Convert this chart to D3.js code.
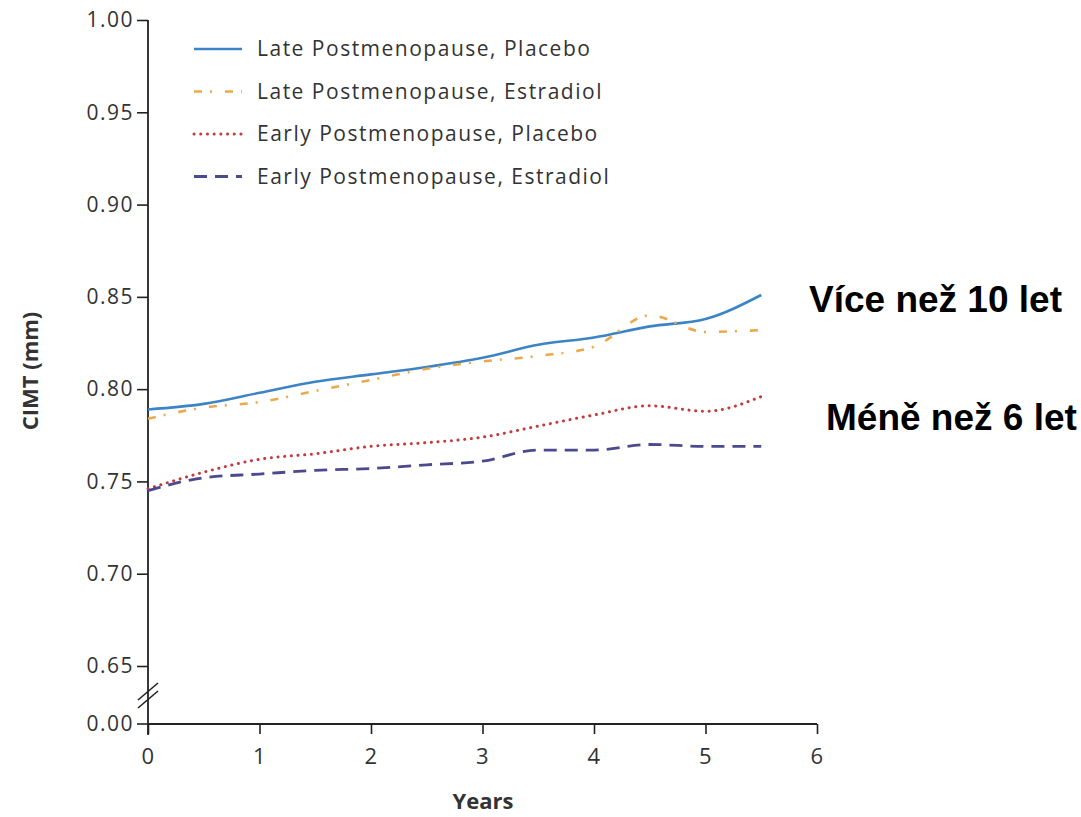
<!DOCTYPE html>
<html>
<head>
<meta charset="utf-8">
<script src="https://cdn.jsdelivr.net/npm/d3@7"></script>
<style>
  body { margin: 0; background: #fff; }
  svg { display: block; }
  .tick text { font-family: "Open Sans", sans-serif; fill: #333; letter-spacing: 1.5px; }
</style>
</head>
<body>
<svg id="chart" width="1081" height="817"></svg>
<script>
// data (CIMT in mm, every half year)
var years = [0, 0.5, 1, 1.5, 2, 2.5, 3, 3.5, 4, 4.5, 5, 5.5];
var latePlacebo    = [0.789, 0.792, 0.798, 0.804, 0.808, 0.812, 0.817, 0.824, 0.828, 0.834, 0.838, 0.851];
var lateEstradiol  = [0.784, 0.790, 0.793, 0.799, 0.805, 0.811, 0.815, 0.818, 0.823, 0.840, 0.831, 0.832];
var earlyPlacebo   = [0.746, 0.755, 0.762, 0.765, 0.769, 0.771, 0.774, 0.780, 0.786, 0.791, 0.788, 0.796];
var earlyEstradiol = [0.745, 0.752, 0.754, 0.756, 0.757, 0.759, 0.761, 0.767, 0.767, 0.770, 0.769, 0.769];
var seriesNames = ["Late Postmenopause, Placebo", "Late Postmenopause, Estradiol",
                   "Early Postmenopause, Placebo", "Early Postmenopause, Estradiol"];
var yTicks = [0.65, 0.70, 0.75, 0.80, 0.85, 0.90, 0.95, 1.00];
var xTicks = [0, 1, 2, 3, 4, 5, 6];

var svg = d3.select("#chart");

var x = d3.scaleLinear().domain([0, 6]).range([148, 817]);
var y = d3.scaleLinear().domain([0.65, 1.00]).range([666, 20]);
var yZero = 724; // broken axis: 0.00 sits below the break

var series = [
    { name: seriesNames[0], values: latePlacebo,    color: "#3d84c6", dash: null,        width: 2.6, cap: "butt" },
    { name: seriesNames[1], values: lateEstradiol,  color: "#eba94c", dash: "8,8,2,13",  width: 2.6, cap: "butt" },
    { name: seriesNames[2], values: earlyPlacebo,   color: "#c43a3c", dash: "0.1,6.6",   width: 3,   cap: "round" },
    { name: seriesNames[3], values: earlyEstradiol, color: "#4c4a8e", dash: "13,8",      width: 2.8, cap: "butt" }
];

var font = "Open Sans, sans-serif";

// y axis
var yAxis = d3.axisLeft(y).tickValues(yTicks).tickFormat(d3.format(".2f")).tickSize(11).tickPadding(3);
var yG = svg.append("g").attr("transform", "translate(148,0)").call(yAxis);
yG.select(".domain").remove();
yG.selectAll(".tick line").attr("stroke", "#222").attr("stroke-width", 1.6);
yG.selectAll(".tick text").attr("font-size", "21px");

// vertical axis line all the way down through the break
svg.append("line")
    .attr("x1", 148).attr("x2", 148)
    .attr("y1", y(1.00)).attr("y2", yZero + 11)
    .attr("stroke", "#222").attr("stroke-width", 1.8);

// 0.00 tick
svg.append("line")
    .attr("x1", 137).attr("x2", 148)
    .attr("y1", yZero).attr("y2", yZero)
    .attr("stroke", "#222").attr("stroke-width", 1.6);
svg.append("text")
    .attr("x", 134).attr("y", yZero)
    .attr("dy", "0.35em")
    .attr("text-anchor", "end")
    .attr("font-family", font)
    .attr("font-size", "21px")
    .attr("letter-spacing", "1.5px")
    .attr("fill", "#333")
    .text("0.00");

// break marks
[0, 8].forEach(function (off) {
    svg.append("line")
        .attr("x1", 138).attr("y1", 700 + off)
        .attr("x2", 158).attr("y2", 683 + off)
        .attr("stroke", "#222").attr("stroke-width", 1.6);
});

// x axis
var xAxis = d3.axisBottom(x).tickValues(xTicks).tickFormat(d3.format("d")).tickSize(10).tickPadding(14);
var xG = svg.append("g").attr("transform", "translate(0," + yZero + ")").call(xAxis);
xG.select(".domain").attr("d", "M148,0H817").attr("stroke", "#222").attr("stroke-width", 1.8);
xG.selectAll(".tick line").attr("stroke", "#222").attr("stroke-width", 1.6);
xG.selectAll(".tick text").attr("font-size", "22px");

// axis titles
svg.append("text")
    .attr("x", 483).attr("y", 809)
    .attr("text-anchor", "middle")
    .attr("font-family", font)
    .attr("font-weight", "bold")
    .attr("font-size", "22px")
    .attr("fill", "#333")
    .text("Years");

svg.append("text")
    .attr("transform", "translate(38,371) rotate(-90)")
    .attr("text-anchor", "middle")
    .attr("font-family", font)
    .attr("font-weight", "bold")
    .attr("font-size", "22px")
    .attr("fill", "#333")
    .text("CIMT (mm)");

// lines
var line = d3.line()
    .x(function (d, i) { return x(years[i]); })
    .y(function (d) { return y(d); })
    .curve(d3.curveMonotoneX);

series.forEach(function (s) {
    svg.append("path")
        .datum(s.values)
        .attr("d", line)
        .attr("fill", "none")
        .attr("stroke", s.color)
        .attr("stroke-width", s.width)
        .attr("stroke-linecap", s.cap)
        .attr("stroke-dasharray", s.dash);
});

// legend
var legend = svg.append("g").attr("class", "legend");
series.forEach(function (s, i) {
    var ly = 49 + i * 42.5;
    legend.append("line")
        .attr("x1", 194).attr("x2", 242)
        .attr("y1", ly).attr("y2", ly)
        .attr("stroke", s.color)
        .attr("stroke-width", s.width)
        .attr("stroke-linecap", s.cap)
        .attr("stroke-dasharray", s.dash);
    legend.append("text")
        .attr("x", 257).attr("y", ly)
        .attr("dy", "0.35em")
        .attr("font-family", font)
        .attr("font-size", "21px")
        .attr("letter-spacing", "1.5px")
        .attr("fill", "#333")
        .text(s.name);
});

// annotations
svg.append("text")
    .attr("x", 809).attr("y", 312)
    .attr("font-family", "Liberation Sans, Arial, sans-serif")
    .attr("font-weight", "bold")
    .attr("font-size", "37px")
    .text("Více než 10 let");

svg.append("text")
    .attr("x", 826).attr("y", 430)
    .attr("font-family", "Liberation Sans, Arial, sans-serif")
    .attr("font-weight", "bold")
    .attr("font-size", "37px")
    .text("Méně než 6 let");
</script>
</body>
</html>
